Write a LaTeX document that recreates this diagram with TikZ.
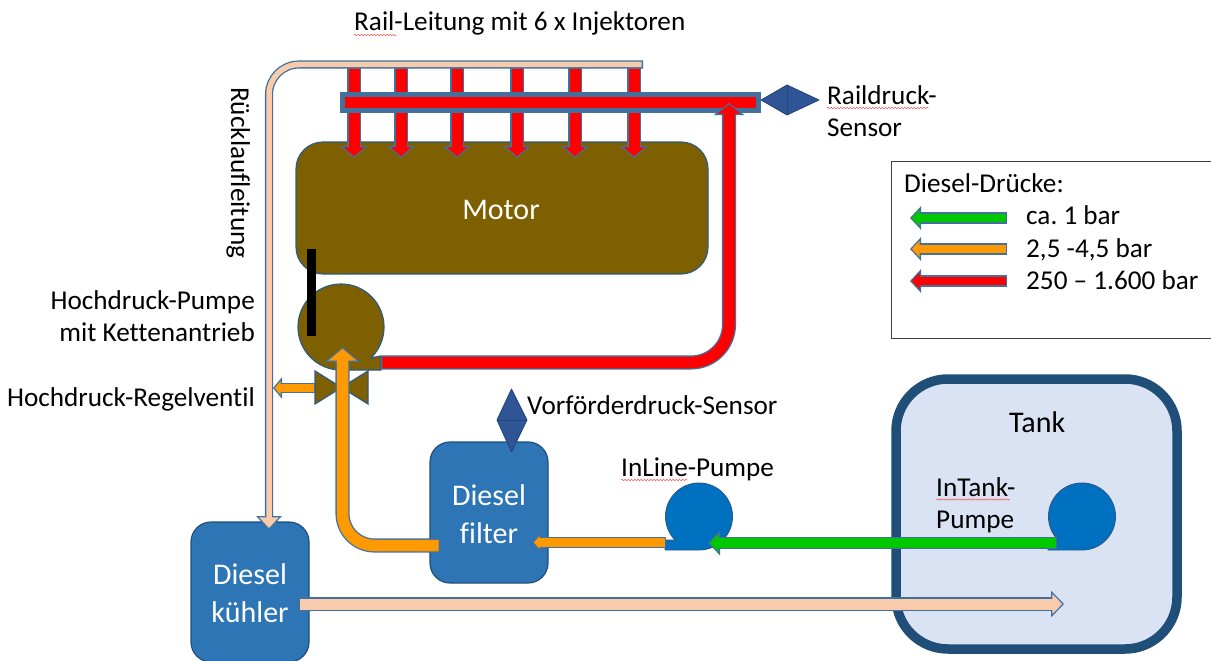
\documentclass[tikz,border=0pt]{standalone}
\usepackage{fontspec}
\setmainfont[Ligatures=NoCommon]{Carlito}
\frenchspacing
\usetikzlibrary{arrows.meta,decorations.pathmorphing}
\definecolor{edge}{HTML}{41719C}
\definecolor{darkedge}{HTML}{2A5A85}
\definecolor{brownfill}{HTML}{7F6000}
\definecolor{bluefill}{HTML}{2E75B6}
\definecolor{pumpfill}{HTML}{0070C0}
\definecolor{peach}{HTML}{F8CBAD}
\definecolor{tankfill}{HTML}{DAE3F3}
\definecolor{tankedge}{HTML}{1F4E79}
\definecolor{sensorfill}{HTML}{2F5597}
\definecolor{gogreen}{HTML}{00C800}
\definecolor{goorange}{HTML}{FF9900}
\definecolor{gored}{HTML}{FF0000}
\tikzset{
  x=1pt,y=1pt,
  lbl/.style={inner sep=0pt,anchor=base west,font=\fontsize{27.2}{30}\selectfont\frenchspacing,text=black},
  lblr/.style={inner sep=0pt,anchor=base east,font=\fontsize{27.2}{30}\selectfont,text=black},
  white label/.style={inner sep=0pt,align=center,text=white,font=\fontsize{30}{38.5}\selectfont},
  bluebox/.style={draw=tankedge,line width=1.2pt,fill=bluefill,rounded corners=20pt},
  squiggle/.style={draw=red!75!white,line width=.45pt,decorate,decoration={snake,amplitude=.7pt,segment length=3.2pt}},
  sensor/.style={fill=sensorfill,draw=sensorfill!80!black,line width=.8pt,line join=round},
}
\newcommand\pipeline[6]{%
  % #1 fill, #2 shaft, #3 head length, #4 head width, #5 radius, #6 path
  \pgfmathsetmacro\outW{#2+2.6}%
  \pgfmathsetmacro\innerBack{1.3*sqrt(1+(#3/(#4/2))^2)}%
  \pgfmathsetmacro\innerL{#3-1.3-\innerBack}%
  \pgfmathsetmacro\innerH{2*\innerL*(#4/2)/#3}%
  \draw[draw=edge,line width=\outW pt,rounded corners=#5pt,line join=miter,-{Triangle[length=#3pt,width=#4pt,fill=edge]}] #6;%
  \draw[draw=#1,line width=#2pt,rounded corners=#5pt,shorten <=1.3pt,shorten >=\innerBack pt,-{Triangle[length=\innerL pt,width=\innerH pt,fill=#1]}] #6;%
}
\begin{document}
\begin{tikzpicture}
\useasboundingbox (0,0) rectangle (1211,-661);
\clip (0,0) rectangle (1211,-661);

% tank
\node[draw=tankedge,line width=9.5pt,fill=tankfill,rounded corners=52pt,minimum width=281pt,minimum height=270pt,inner sep=0pt] (tank) at (1036.5,-514) {};
\node[lbl,font=\fontsize{30}{32}\selectfont] (tanklabel) at (1009,-432) {Tank};

% legend
\draw[draw=black!75,line width=.9pt] (891,-161) -- (1215,-161) -- (1215,-338) -- (891,-338) -- cycle;
\node[lbl] (legendtitle) at (904,-192) {Diesel-Drücke:};
\node[lbl] (legend1) at (1026,-224.5) {ca. 1 bar};
\node[lbl] (legend2) at (1026,-257) {2,5 -4,5 bar};
\node[lbl] (legend3) at (1026,-289) {250 – 1.600 bar};
\coordinate (l1a) at (1007,-218); \coordinate (l1b) at (910,-218);
\coordinate (l2a) at (1007,-249); \coordinate (l2b) at (910,-249);
\coordinate (l3a) at (1007,-281); \coordinate (l3b) at (910,-281);
\pipeline{gogreen}{8.5}{11}{23}{0}{(l1a) -- (l1b)}
\pipeline{goorange}{8.5}{11}{23}{0}{(l2a) -- (l2b)}
\pipeline{gored}{8.5}{11}{23}{0}{(l3a) -- (l3b)}

% motor
\node[draw=darkedge,line width=1.2pt,fill=brownfill,rounded corners=27pt,minimum width=412pt,minimum height=132pt,inner sep=0pt] (motor) at (502,-208) {};
\node[white label] (motorlabel) at (501,-209.5) {Motor};

% injectors
\foreach \n/\xx in {1/354,2/401,3/457,4/517,5/575,6/634}{
  \coordinate (inj\n a) at (\xx,-68);
  \coordinate (inj\n b) at (\xx,-158);
  \pipeline{gored}{11}{12}{27}{0}{(inj\n a) -- (inj\n b)}
}

% rail
\node[draw=edge,line width=5pt,fill=gored,minimum width=416pt,minimum height=16pt,inner sep=0pt] (rail) at (550.5,-102.5) {};

% cooler
\node[bluebox,minimum width=118pt,minimum height=140pt,inner sep=0pt] (cooler) at (250,-592) {};
\node[white label] (coolerlabel) at (250,-593) {Diesel\\kühler};

% return line
\coordinate (ret0) at (643,-64.5);
\coordinate (ret1) at (269,-64.5);
\coordinate (ret2) at (269,-530);
\pipeline{peach}{5.5}{14}{25}{30}{(ret0) -- (ret1) -- (ret2)}

% rail sensor
\coordinate (rsW) at (761,-100); \coordinate (rsE) at (819,-100);
\coordinate (rsN) at (787,-85); \coordinate (rsS) at (787,-115);
\path[sensor] (rsW) -- (rsN) -- (rsE) -- (rsS) -- cycle;
\draw[sensorfill!80!black,line width=.6pt] (rsN) -- (rsS);

% high pressure pump
\draw[draw=darkedge,line width=1.2pt,fill=brownfill,line join=miter] (381,-370) -- (341,-370) arc (-90:-406:43pt) -- (381,-356) -- cycle;
\node[draw=none,fill=black,minimum width=9pt,minimum height=87pt,inner sep=0pt] (chain) at (311.5,-292.5) {};
\coordinate (hpA) at (381,-362.5);
\coordinate (hpB) at (729,-362.5);
\coordinate (hpC) at (729,-103);
\pipeline{gored}{11.5}{12}{30}{38}{(hpA) -- (hpB) -- (hpC)}

% valve
\coordinate (v1) at (315,-371); \coordinate (v2) at (315,-404);
\coordinate (v3) at (368,-371); \coordinate (v4) at (368,-404);
\draw[draw=darkedge,line width=1.2pt,fill=brownfill,line join=miter] (v1) -- (v4) -- (v3) -- (v2) -- cycle;

% relief arrow
\coordinate (reliefA) at (315,-388);
\coordinate (reliefB) at (273,-388);
\pipeline{goorange}{7.5}{9}{21}{0}{(reliefA) -- (reliefB)}

% filter
\node[bluebox,minimum width=118pt,minimum height=141pt,inner sep=0pt] (filter) at (489,-512.5) {};
\node[white label] (filterlabel) at (489,-514) {Diesel\\filter};
\coordinate (filterout) at (440,-545.5);
\coordinate (pc) at (342.5,-545.5);
\coordinate (ptip) at (342.5,-347);
\pipeline{goorange}{11.5}{15}{35}{32}{(filterout) -- (pc) -- (ptip)}

% pre-pressure sensor
\coordinate (psN) at (511.5,-389); \coordinate (psS) at (511.5,-452);
\coordinate (psW) at (497,-420); \coordinate (psE) at (527,-420);
\path[sensor] (psN) -- (psE) -- (psS) -- (psW) -- cycle;
\draw[sensorfill!80!black,line width=.6pt] (psW) -- (psE);

% pumps
\draw[draw=darkedge,line width=.9pt,fill=pumpfill] (665,-550) -- (699,-550) arc (-90:225:33.5pt) -- (665,-540) -- cycle;
\draw[draw=darkedge,line width=.9pt,fill=pumpfill] (1048,-550) -- (1082,-550) arc (-90:225:33.5pt) -- (1048,-540) -- cycle;

% feed arrows
\coordinate (oA) at (666,-542.5);
\coordinate (oB) at (532,-542.5);
\pipeline{goorange}{8.5}{9}{19}{0}{(oA) -- (oB)}
\coordinate (gA) at (1057,-543);
\coordinate (gB) at (708,-543);
\pipeline{gogreen}{9.5}{12}{24}{0}{(gA) -- (gB)}
\coordinate (bA) at (299,-604);
\coordinate (bB) at (1064,-604);
\pipeline{peach}{11}{13}{26}{0}{(bA) -- (bB)}

% labels
\node[lbl] (raillabel) at (354,-31) {Rail-Leitung mit 6 x Injektoren};
\node[lbl] (rs1) at (827,-104) {Raildruck-};
\node[lbl] (rs2) at (827,-136) {Sensor};
\node[lbl,rotate=-90,anchor=base west] (ruecklauf) at (231,-87) {Rücklaufleitung};
\node[lblr] (hp1) at (255,-309) {Hochdruck-Pumpe};
\node[lblr] (hp2) at (255,-341) {mit Kettenantrieb};
\node[lblr] (hrv) at (255,-406) {Hochdruck-Regelventil};
\node[lbl] (vfs) at (527,-414) {Vorförderdruck-Sensor};
\node[lbl] (inl) at (621,-476) {InLine-Pumpe};
\node[lbl] (int1) at (936,-496) {InTank-};
\node[lbl] (int2) at (936,-528) {Pumpe};
\coordinate (sq1a) at (354,-35); \coordinate (sq1b) at (397,-35);
\coordinate (sq2a) at (827,-108); \coordinate (sq2b) at (929,-108);
\coordinate (sq3a) at (621,-480); \coordinate (sq3b) at (688,-480);
\coordinate (sq4a) at (936,-499.5); \coordinate (sq4b) at (1010,-499.5);
\path[squiggle] (sq1a) -- (sq1b);
\path[squiggle] (sq2a) -- (sq2b);
\path[squiggle] (sq3a) -- (sq3b);
\path[squiggle] (sq4a) -- (sq4b);
\end{tikzpicture}
\end{document}
